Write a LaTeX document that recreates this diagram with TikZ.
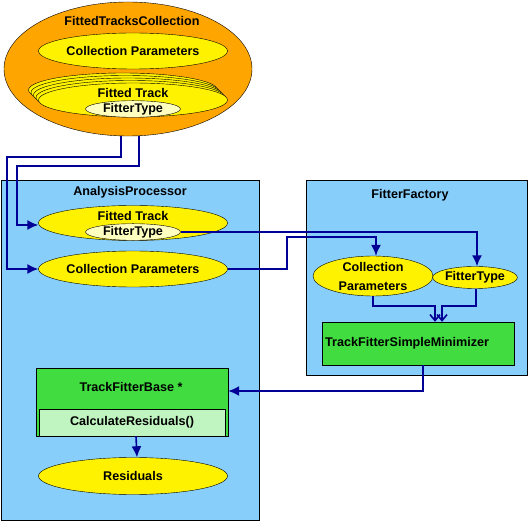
\documentclass[tikz,border=0pt]{standalone}
\usepackage{fontspec}
\setmainfont{Liberation Sans}
\usepackage{tikz}
\usetikzlibrary{
	arrows.meta,
	shapes.geometric,
	positioning
}
\definecolor{NavyLine}{RGB}{0,0,150}
\definecolor{BoxBlue}{RGB}{135,206,250}
\definecolor{CollOrange}{RGB}{255,165,0}
\definecolor{MethGreen}{RGB}{64,220,64}
\definecolor{PaleGreen}{RGB}{192,244,192}
\definecolor{PaleYellow}{RGB}{255,255,192}

\tikzset{
	txt/.style={font=\fontsize{12.6}{14}\selectfont\bfseries, inner sep=0pt, align=center},
	oval/.style={ellipse, draw, fill=yellow, inner sep=0pt, minimum width=189pt, minimum height=36pt, txt},
	smalloval/.style={ellipse, draw, fill=PaleYellow, inner sep=0pt, minimum width=95pt, minimum height=14pt, txt},
	panel/.style={rectangle, draw, fill=BoxBlue, inner sep=0pt},
	link/.style={draw=NavyLine, line width=1.6pt, -{Latex[length=11pt,width=10pt]}},
	mergelink/.style={draw=NavyLine, line width=1.6pt, -{Straight Barb[length=6pt,width=10pt]}}
}

\begin{document}
\begin{tikzpicture}[x=1pt, y=-1pt]
	\useasboundingbox (0,0) rectangle (528,521);
	% fitted tracks collection
	\node[ellipse, draw, fill=CollOrange, minimum width=248pt, minimum height=134pt] (ftc) at (128,69) {};
	\node[txt] (ftctitle) at (132,21) {FittedTracksCollection};
	\node[oval] (cp) at (133,51) {Collection Parameters};
	\foreach \k in {4,3,2,1}
		\node[oval, minimum height=34pt] (stack\k) at (133-2.5*\k, 100-2.5*\k) {};
	\node[oval, minimum height=34pt] (ft) at (133,100) {};
	\node[txt] (fttitle) at (133,93) {Fitted Track};
	\node[smalloval] (ftt) at (133,109) {FitterType};

	% analysis processor
	\node[panel, minimum width=258pt, minimum height=340pt] (ap) at (130,350) {};
	\node[txt] (aptitle) at (130,192) {AnalysisProcessor};
	\node[oval, minimum height=35pt] (apft) at (133,223) {};
	\node[txt] (apfttitle) at (133,216) {Fitted Track};
	\node[smalloval, minimum height=13pt] (apftt) at (133,232) {FitterType};
	\node[oval] (apcp) at (133,269) {Collection Parameters};
	\node[rectangle, draw, fill=MethGreen, minimum width=192pt, minimum height=68pt] (tfb) at (132,402) {};
	\node[txt] (tfbtitle) at (131,387) {TrackFitterBase *};
	\node[rectangle, draw, fill=PaleGreen, minimum width=186pt, minimum height=27pt, txt] (calc) at (132,422.5) {CalculateResiduals()};
	\node[oval, minimum height=37pt] (res) at (133,476) {Residuals};

	% fitter factory
	\node[panel, minimum width=221pt, minimum height=195pt] (ff) at (416.5,277.5) {};
	\node[txt] (fftitle) at (410,195) {FitterFactory};
	\node[oval, minimum width=120pt, minimum height=38pt, text width=80pt, font=\fontsize{12.6}{19}\selectfont\bfseries] (ffcp) at (373,276) {Collection\\Parameters};
	\node[oval, minimum width=66pt, minimum height=22pt] (fftype) at (475,277.5) {FitterType};
	\node[rectangle, draw, fill=MethGreen, minimum width=192pt, minimum height=43pt] (tfsm) at (418,343.5) {};
	\node[txt, anchor=west] (tfsmtitle) at (325,343) {TrackFitterSimpleMinimizer};
	\coordinate (mrg) at (438.5,306);

	% connectors
	\draw[link] ([xshift=-7pt]ftc.south) |- (7,157) |- (apcp.west);
	\draw[link] ([xshift=11pt]ftc.south) |- (17,166) |- ([yshift=-2pt]apft.west);
	\draw[link] (apftt.east) -| ([xshift=2pt]fftype.north);
	\draw[link] (apcp.east) -| (287,237) -| ([xshift=3pt]ffcp.north);
	\draw[mergelink] (ffcp.south) |- ([xshift=-3.5pt]mrg) -- ([xshift=-3.5pt]mrg |- tfsm.north);
	\draw[mergelink] ([xshift=1pt]fftype.south) |- ([xshift=3.5pt]mrg) -- ([xshift=3.5pt]mrg |- tfsm.north);
	\draw[link] ([xshift=5pt]tfsm.south) |- ([yshift=11pt]tfb.east);
	\draw[link] ([xshift=4pt]calc.south) -- ([xshift=4pt]res.north);
\end{tikzpicture}
\end{document}
